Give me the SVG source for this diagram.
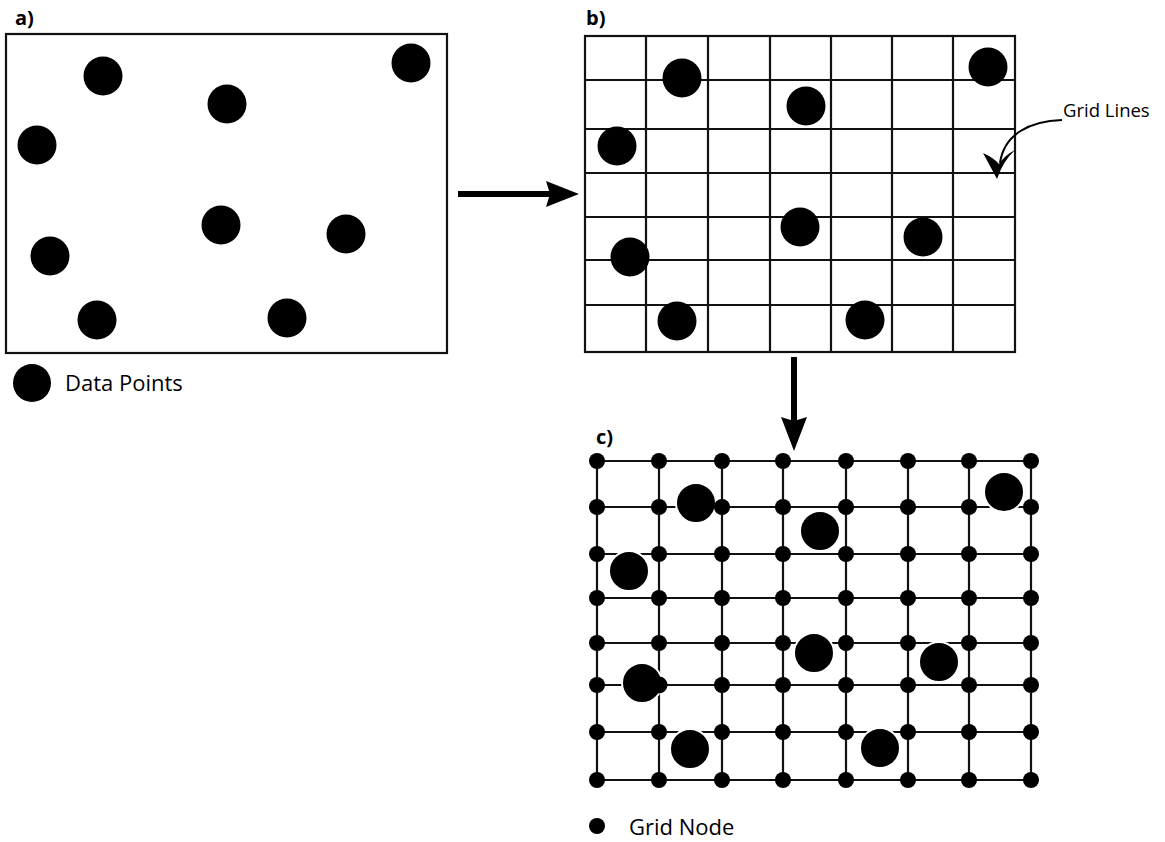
<svg xmlns="http://www.w3.org/2000/svg" width="1165" height="842" viewBox="0 0 1165 842">
  <style>
    .frame { fill: #fff; stroke: #111; stroke-width: 2.2; }
    .grid { fill: none; stroke: #111; stroke-width: 2.2; }
    .pt { fill: #000; }
    .pt-halo { fill: #000; stroke: #fff; stroke-width: 2; }
    .node { fill: #000; }
    .tag { font-family: "Open Sans", "Liberation Sans", sans-serif; font-weight: bold; font-size: 20px; fill: #000; }
    .legend { font-family: "Open Sans", "Liberation Sans", sans-serif; font-size: 22px; fill: #000; }
    .note { font-family: "Open Sans", "Liberation Sans", sans-serif; font-size: 18.5px; fill: #000; }
    .arrow { fill: none; stroke: #000; stroke-width: 6; }
    .head { fill: #000; }
  </style>
  <rect width="1165" height="842" fill="#fff"/>

  <!-- a) scattered data points -->
  <g id="panel-a">
    <text class="tag" x="15" y="25">a)</text>
    <rect class="frame" x="6" y="34" width="441" height="319"/>
    <circle class="pt" cx="103" cy="76" r="19.5"/>
    <circle class="pt" cx="227" cy="104" r="19.5"/>
    <circle class="pt" cx="411" cy="63" r="19.5"/>
    <circle class="pt" cx="37" cy="145" r="19.5"/>
    <circle class="pt" cx="221" cy="225" r="19.5"/>
    <circle class="pt" cx="346" cy="234" r="19.5"/>
    <circle class="pt" cx="50" cy="256" r="19.5"/>
    <circle class="pt" cx="97" cy="320" r="19.5"/>
    <circle class="pt" cx="287" cy="318" r="19.5"/>
  </g>

  <g id="legend-data-points">
    <circle class="pt" cx="32" cy="383" r="19"/>
    <text class="legend" x="65" y="391">Data Points</text>
  </g>

  <!-- b) points over a 7 x 7 grid -->
  <g id="panel-b">
    <text class="tag" x="586" y="25">b)</text>
    <rect class="frame" x="585" y="36" width="430" height="316"/>
    <path class="grid" d="M646,36V352M708,36V352M770,36V352M831,36V352M892,36V352M953,36V352
                          M585,80H1015M585,129H1015M585,173H1015M585,217H1015M585,260H1015M585,305H1015"/>
    <circle class="pt" cx="682" cy="78" r="19.5"/>
    <circle class="pt" cx="806" cy="106" r="19.5"/>
    <circle class="pt" cx="988" cy="67" r="19.5"/>
    <circle class="pt" cx="617" cy="146" r="19.5"/>
    <circle class="pt" cx="800" cy="227" r="19.5"/>
    <circle class="pt" cx="923" cy="237" r="19.5"/>
    <circle class="pt" cx="630" cy="257" r="19.5"/>
    <circle class="pt" cx="677" cy="321" r="19.5"/>
    <circle class="pt" cx="865" cy="320" r="19.5"/>
  </g>

  <g id="note-grid-lines">
    <text class="note" x="1063" y="117">Grid Lines</text>
    <path d="M1062,120 C1030,121 1004,134 1000,163" fill="none" stroke="#000" stroke-width="2"/>
    <path class="head" d="M997,179 L983,153 Q994,158 999,164 Q1005,155 1015,150 Q1003,161 997,179 Z"/>
  </g>

  <!-- c) grid with nodes at every intersection -->
  <g id="panel-c">
    <text class="tag" x="596" y="444">c)</text>
    <path class="grid" d="M597,461V780M659,461V780M722,461V780M783,461V780M846,461V780M908,461V780M969,461V780M1031,461V780
                          M597,461H1031M597,507H1031M597,554H1031M597,598H1031M597,643H1031M597,685H1031M597,732H1031M597,780H1031"/>
    <circle class="pt-halo" cx="696" cy="503" r="20"/>
    <circle class="pt-halo" cx="1004" cy="492" r="20"/>
    <circle class="pt-halo" cx="820" cy="531" r="20"/>
    <circle class="pt-halo" cx="629" cy="571" r="20"/>
    <circle class="pt-halo" cx="814" cy="653" r="20"/>
    <circle class="pt-halo" cx="939" cy="662" r="20"/>
    <circle class="pt-halo" cx="642" cy="683" r="20"/>
    <circle class="pt-halo" cx="690" cy="749" r="20"/>
    <circle class="pt-halo" cx="880" cy="748" r="20"/>
    <g id="grid-nodes">
      <circle class="node" cx="597" cy="461" r="8"/><circle class="node" cx="659" cy="461" r="8"/><circle class="node" cx="722" cy="461" r="8"/><circle class="node" cx="783" cy="461" r="8"/><circle class="node" cx="846" cy="461" r="8"/><circle class="node" cx="908" cy="461" r="8"/><circle class="node" cx="969" cy="461" r="8"/><circle class="node" cx="1031" cy="461" r="8"/>
      <circle class="node" cx="597" cy="507" r="8"/><circle class="node" cx="659" cy="507" r="8"/><circle class="node" cx="722" cy="507" r="8"/><circle class="node" cx="783" cy="507" r="8"/><circle class="node" cx="846" cy="507" r="8"/><circle class="node" cx="908" cy="507" r="8"/><circle class="node" cx="969" cy="507" r="8"/><circle class="node" cx="1031" cy="507" r="8"/>
      <circle class="node" cx="597" cy="554" r="8"/><circle class="node" cx="659" cy="554" r="8"/><circle class="node" cx="722" cy="554" r="8"/><circle class="node" cx="783" cy="554" r="8"/><circle class="node" cx="846" cy="554" r="8"/><circle class="node" cx="908" cy="554" r="8"/><circle class="node" cx="969" cy="554" r="8"/><circle class="node" cx="1031" cy="554" r="8"/>
      <circle class="node" cx="597" cy="598" r="8"/><circle class="node" cx="659" cy="598" r="8"/><circle class="node" cx="722" cy="598" r="8"/><circle class="node" cx="783" cy="598" r="8"/><circle class="node" cx="846" cy="598" r="8"/><circle class="node" cx="908" cy="598" r="8"/><circle class="node" cx="969" cy="598" r="8"/><circle class="node" cx="1031" cy="598" r="8"/>
      <circle class="node" cx="597" cy="643" r="8"/><circle class="node" cx="659" cy="643" r="8"/><circle class="node" cx="722" cy="643" r="8"/><circle class="node" cx="783" cy="643" r="8"/><circle class="node" cx="846" cy="643" r="8"/><circle class="node" cx="908" cy="643" r="8"/><circle class="node" cx="969" cy="643" r="8"/><circle class="node" cx="1031" cy="643" r="8"/>
      <circle class="node" cx="597" cy="685" r="8"/><circle class="node" cx="659" cy="685" r="8.5"/><circle class="node" cx="722" cy="685" r="8"/><circle class="node" cx="783" cy="685" r="8"/><circle class="node" cx="846" cy="685" r="8"/><circle class="node" cx="908" cy="685" r="8"/><circle class="node" cx="969" cy="685" r="8"/><circle class="node" cx="1031" cy="685" r="8"/>
      <circle class="node" cx="597" cy="732" r="8"/><circle class="node" cx="659" cy="732" r="8"/><circle class="node" cx="722" cy="732" r="8"/><circle class="node" cx="783" cy="732" r="8"/><circle class="node" cx="846" cy="732" r="8"/><circle class="node" cx="908" cy="732" r="8"/><circle class="node" cx="969" cy="732" r="8"/><circle class="node" cx="1031" cy="732" r="8"/>
      <circle class="node" cx="597" cy="780" r="8"/><circle class="node" cx="659" cy="780" r="8"/><circle class="node" cx="722" cy="780" r="8"/><circle class="node" cx="783" cy="780" r="8"/><circle class="node" cx="846" cy="780" r="8"/><circle class="node" cx="908" cy="780" r="8"/><circle class="node" cx="969" cy="780" r="8"/><circle class="node" cx="1031" cy="780" r="8"/>
    </g>
  </g>

  <g id="legend-grid-node">
    <circle class="node" cx="597" cy="826" r="8"/>
    <text class="legend" x="629" y="835">Grid Node</text>
  </g>

  <!-- step arrows between the panels -->
  <g id="connectors">
    <path class="arrow" d="M458,194H552"/>
    <path class="head" d="M579,194 L546,181 L550,194 L546,207 Z"/>
    <path class="arrow" d="M794,357V421"/>
    <path class="head" d="M794,451 L781,417 L794,421 L807,417 Z"/>
  </g>
</svg>
